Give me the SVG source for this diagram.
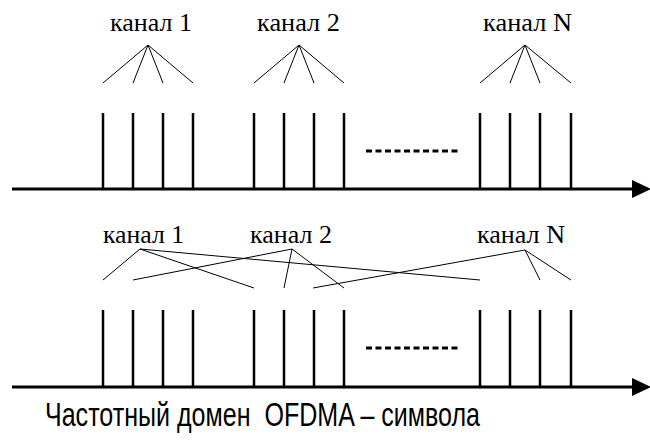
<svg xmlns="http://www.w3.org/2000/svg" width="650" height="447" viewBox="0 0 650 447">
<style>
.lbl{font-family:"Liberation Serif","Times New Roman",serif;font-size:26px;fill:#000}
.cap{font-family:"Liberation Sans",Arial,sans-serif;font-size:33px;fill:#000;white-space:pre}
.axis{stroke:#000;stroke-width:3;fill:none}
.tick{stroke:#000;stroke-width:2.5;fill:none}
.fan{stroke:#000;stroke-width:1;fill:none}
.dots{stroke:#000;stroke-width:3;stroke-dasharray:6 3.5;fill:none}
</style>
<rect width="650" height="447" fill="#fff"/>
<g id="spectrum-top">
  <line class="axis" x1="12" y1="189" x2="634" y2="189"/>
  <polygon points="632,180 651,189 632,198" fill="#000"/>
  <path class="tick" d="M103 113V189M133 113V189M163 113V189M193 113V189M254 113V189M284 113V189M314 113V189M344 113V189M480 113V189M510 113V189M540 113V189M571 113V189"/>
  <line class="dots" x1="366" y1="151" x2="458" y2="151"/>
</g>
<g id="spectrum-bottom">
  <line class="axis" x1="12" y1="387" x2="634" y2="387"/>
  <polygon points="632,378 651,387 632,396" fill="#000"/>
  <path class="tick" d="M103 310V387M133 310V387M163 310V387M193 310V387M254 310V387M284 310V387M314 310V387M344 310V387M480 310V387M510 310V387M540 310V387M571 310V387"/>
  <line class="dots" x1="366" y1="348" x2="458" y2="348"/>
</g>
<g id="ch1-top"><text class="lbl" x="110" y="31" textLength="82" lengthAdjust="spacingAndGlyphs">канал 1</text></g>
<g id="ch2-top"><text class="lbl" x="257" y="31" textLength="83" lengthAdjust="spacingAndGlyphs">канал 2</text></g>
<g id="chN-top"><text class="lbl" x="483" y="31" textLength="89" lengthAdjust="spacingAndGlyphs">канал N</text></g>
<g id="ch1-bottom"><text class="lbl" x="103" y="243" textLength="81" lengthAdjust="spacingAndGlyphs">канал 1</text></g>
<g id="ch2-bottom"><text class="lbl" x="250" y="243" textLength="82" lengthAdjust="spacingAndGlyphs">канал 2</text></g>
<g id="chN-bottom"><text class="lbl" x="477" y="243" textLength="88" lengthAdjust="spacingAndGlyphs">канал N</text></g>
<g id="connectors">
  <path class="fan" d="M148 45L103 83M148 45L133 83M148 45L163 83M148 45L193 83"/>
  <path class="fan" d="M299 45L254 83M299 45L284 83M299 45L314 83M299 45L344 83"/>
  <path class="fan" d="M525 45L480 83M525 45L510 83M525 45L540 83M525 45L571 83"/>
  <path class="fan" d="M140 249L103 280M140 249L254 288M140 249L480 280"/>
  <path class="fan" d="M292 249L133 280M292 249L284 288M292 249L344 288"/>
  <path class="fan" d="M525 250L313 288M525 250L540 280M525 250L571 280"/>
</g>
<g id="caption"><text class="cap" x="45" y="426" textLength="435" lengthAdjust="spacingAndGlyphs" xml:space="preserve">Частотный домен  OFDMA – символа</text></g>
</svg>
